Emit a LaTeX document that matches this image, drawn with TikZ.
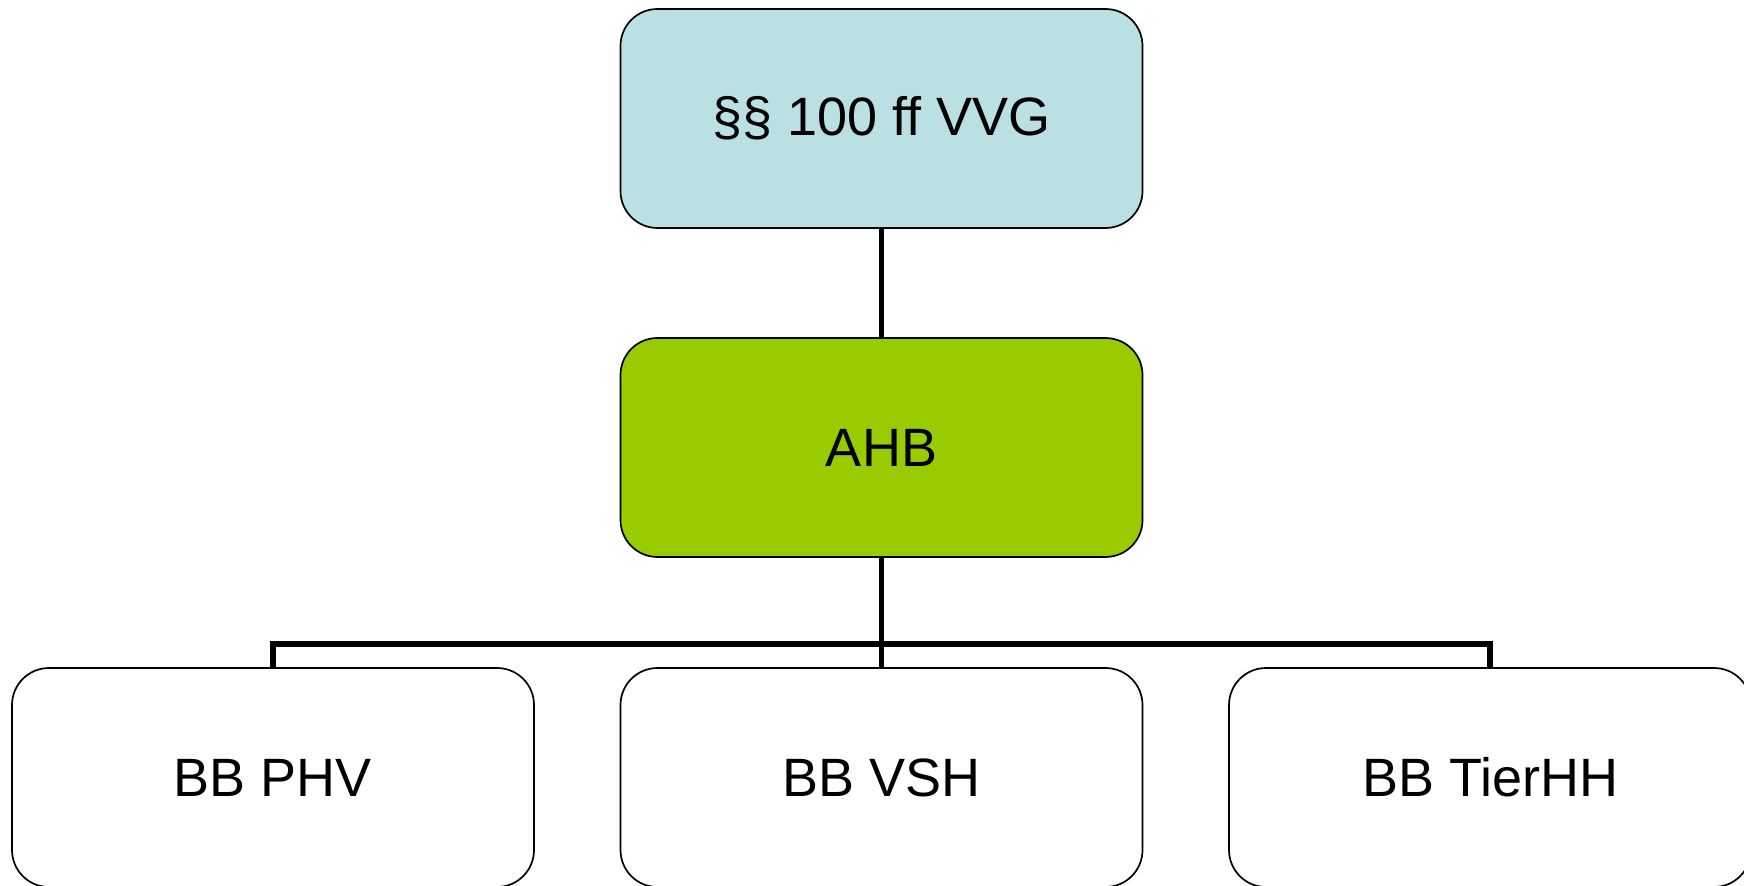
\documentclass[tikz,border=0pt]{standalone}
\usepackage{fontspec}
\setmainfont{Liberation Sans}
\usetikzlibrary{positioning}

\definecolor{boxblue}{HTML}{BAE0E3}
\definecolor{boxgreen}{HTML}{99CC00}

\tikzset{
    box/.style={draw=black, line width=0.85pt, rounded corners=18.5pt,
        minimum width=261pt, minimum height=109.5pt, inner sep=0pt,
        font=\fontsize{27}{32}\selectfont},
    link/.style={draw=black, line width=2.7pt}
}

\begin{document}
\begin{tikzpicture}[x=0.5pt, y=-0.5pt]
            \useasboundingbox (0,0) rectangle (1744,886);

            \coordinate (a) at (881.5,118.5);
            \coordinate (b) at (881.5,447.5);
            \coordinate (c) at (273,777.5);
            \coordinate (d) at (881.5,777.5);
            \coordinate (e) at (1490,777.5);

            \node[box, fill=boxblue] (vvg) at (a) {§§ 100 ff VVG};
            \node[box, fill=boxgreen] (ahb) at (b) {AHB};
            \node[box, fill=white] (phv) at (c) {BB PHV};
            \node[box, fill=white] (vsh) at (d) {BB VSH};
            \node[box, fill=white] (tierhh) at (e) {BB TierHH};

            \coordinate (bus) at (881.5,644);

            \draw[link] (vvg.south) -- (ahb.north);
            \draw[link] (ahb.south) -- (vsh.north);
            \draw[link] (bus) -| (phv.north);
            \draw[link] (bus) -| (tierhh.north);
        \end{tikzpicture}
\end{document}
